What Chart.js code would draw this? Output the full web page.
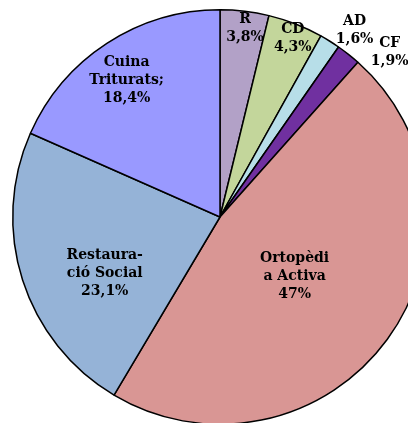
<!DOCTYPE html>
<html>
<head>
<meta charset="utf-8">
<script src="https://cdn.jsdelivr.net/npm/chart.js@4/dist/chart.umd.min.js"></script>
<style>
  html, body { margin: 0; padding: 0; background: #fff; overflow: hidden; }
  #wrap { width: 408px; height: 423px; overflow: hidden; }
</style>
</head>
<body>
<div id="wrap"><canvas id="chart" width="440" height="440"></canvas></div>
<script>
// data
var categories = ["R", "CD", "AD", "CF", "Ortopèdia Activa", "Restauració Social", "Cuina Triturats"];
var values = [3.8, 4.3, 1.6, 1.9, 47, 23.1, 18.4];
var labelLines = [["R"], ["CD"], ["AD"], ["CF"], ["Ortopèdi", "a Activa"], ["Restaura-", "ció Social"], ["Cuina", "Triturats;"]];
var colors = ["#B2A1C7", "#C3D69B", "#B7DEE8", "#7030A0", "#D99694", "#95B3D7", "#9999FF"];

// label placement: radius factor and angle shift (degrees) per slice
var labelRadius = [0.92, 0.93, 1.11, 1.14, 0.46, 0.62, 0.80];
var labelShift = [0.7, 0.8, 3.8, 7.6, 2.3, -8.5, -1.2];

var sliceLabels = {
    id: 'sliceLabels',
    afterDatasetsDraw: function(chart) {
        var ctx = chart.ctx;
        var meta = chart.getDatasetMeta(0);
        ctx.save();
        ctx.font = 'bold 14px "DejaVu Serif", serif';
        ctx.fillStyle = '#000';
        ctx.textAlign = 'center';
        ctx.textBaseline = 'middle';
        meta.data.forEach(function(arc, i) {
            var p = arc.getProps(['x', 'y', 'startAngle', 'endAngle', 'outerRadius']);
            var mid = (p.startAngle + p.endAngle) / 2 + labelShift[i] * Math.PI / 180;
            var r = p.outerRadius * labelRadius[i];
            var cx = p.x + Math.cos(mid) * r;
            var cy = p.y + Math.sin(mid) * r;
            var lines = labelLines[i].concat([String(values[i]).replace('.', ',') + '%']);
            var lh = 18;
            var y0 = cy - (lines.length - 1) * lh / 2;
            lines.forEach(function(t, j) {
                ctx.fillText(t, cx, y0 + j * lh);
            });
        });
        ctx.restore();
    }
};

var ctx = document.getElementById("chart").getContext("2d");
var myChart = new Chart(ctx, {
    type: 'pie',
    data: {
        labels: categories,
        datasets: [{
            data: values,
            backgroundColor: colors,
            borderColor: '#000',
            borderWidth: 1.5
        }]
    },
    options: {
        responsive: false,
        animation: false,
        layout: { padding: { left: 12, right: 12, top: 9, bottom: 15 } },
        plugins: {
            legend: { display: false },
            tooltip: { enabled: false }
        }
    },
    plugins: [sliceLabels]
});
</script>
</body>
</html>
